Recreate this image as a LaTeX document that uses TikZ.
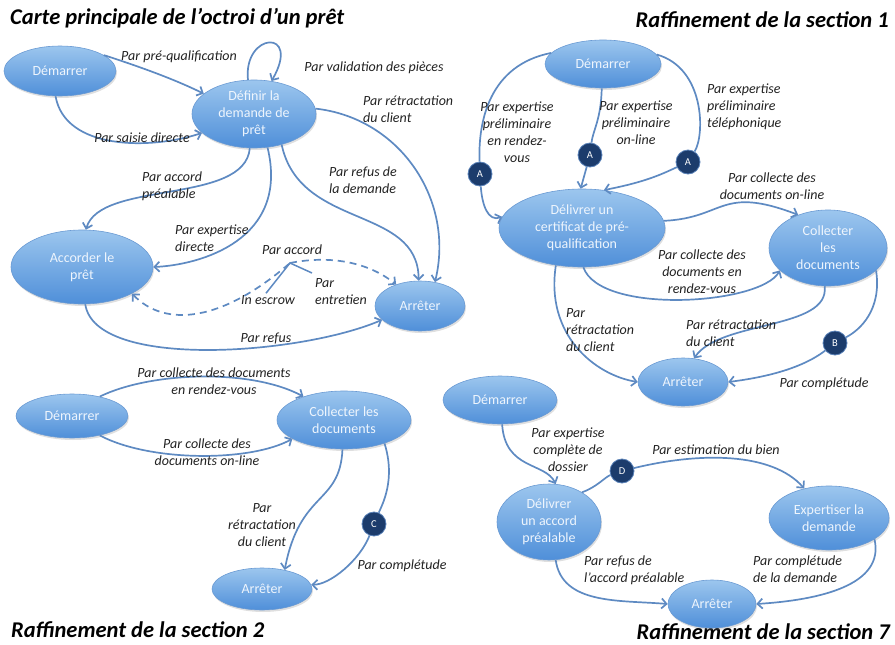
\documentclass[tikz,border=0pt]{standalone}
\usepackage{fontspec}
\setmainfont{Carlito}
\usetikzlibrary{shapes.geometric,arrows.meta,shadows}
\definecolor{edgeblue}{HTML}{5E8AC2}
\definecolor{elltop}{HTML}{9CC6EE}
\definecolor{ellbot}{HTML}{4F8FD9}
\definecolor{ellborder}{HTML}{6A9AD3}
\definecolor{navy}{HTML}{1C3C6C}
\definecolor{navyborder}{HTML}{5A82B8}
\definecolor{labelgray}{HTML}{222222}
\definecolor{nodetext}{HTML}{EEF5FD}
\begin{document}
\begin{tikzpicture}[x=1pt,y=-1pt,
  state/.style={ellipse,inner sep=0pt,top color=elltop,bottom color=ellbot,draw=ellborder,line width=0.6pt,
     text=nodetext,font=\fontsize{14}{17}\selectfont,align=center,
     drop shadow={opacity=0.25,shadow xshift=1pt,shadow yshift=-2pt}},
  badge/.style={circle,fill=navy,draw=navyborder,line width=0.8pt,minimum size=24pt,inner sep=0pt,text=white,font=\fontsize{10.5}{12}\selectfont},
  lbl/.style={text=labelgray,font=\fontsize{14}{17}\selectfont\itshape,inner sep=0pt},
  ttl/.style={text=black,font=\fontsize{22.5}{27}\selectfont\bfseries\itshape,inner sep=0pt},
  flow/.style={draw=edgeblue,line width=1.7pt},
  arr/.style={flow,-{Straight Barb[length=5pt,width=10pt]}},
  dflow/.style={draw=edgeblue,line width=1.7pt,dash pattern=on 7pt off 5pt}
]
\useasboundingbox (0,0) rectangle (895,645);

% ---------------- Carte principale ----------------
\node[ttl,anchor=west] (t1) at (10,18) {Carte principale de l’octroi d’un prêt};
\node[state,minimum width=112pt,minimum height=50pt] (d1) at (60,71) {Démarrer};
\node[state,minimum width=124pt,minimum height=68pt] (def) at (254,114) {Définir la\\demande de\\prêt};
\node[state,minimum width=142pt,minimum height=74pt] (acc) at (82,267) {Accorder le\\prêt};
\node[state,minimum width=90pt,minimum height=50pt] (arr1) at (420,306) {Arrêter};
\coordinate (j) at (290,263);

\draw[arr] (d1.20) .. controls (150,70) and (180,82) .. (def.158);
\draw[arr] (d1.-100) .. controls (65,150) and (150,150) .. (def.-160);
\draw[arr] (def.100) .. controls (243,32) and (302,28) .. (def.62);
\draw[arr] (def.5) .. controls (400,118) and (455,200) .. (arr1.58);
\draw[arr] (def.-48) .. controls (300,230) and (418,205) .. (arr1.93);
\draw[arr] (def.-97) .. controls (245,205) and (100,180) .. (acc.84);
\draw[arr] (def.-68) .. controls (290,240) and (200,265) .. (acc.0);
\draw[arr] (acc.-85) .. controls (95,370) and (300,355) .. (arr1.-160);
\draw[dflow,{Straight Barb[length=5pt,width=10pt]}-] (acc.-28) .. controls (165,328) and (222,322) .. (j);
\draw[dflow,-{Straight Barb[length=5pt,width=10pt]}] (j) .. controls (330,255) and (368,262) .. (arr1.138);

\node[lbl] (l1) at (179,57) {Par pré-qualification};
\node[lbl] (l2) at (374,68) {Par validation des pièces};
\node[lbl,align=left,anchor=west] (l3) at (363,109) {Par rétractation\\du client};
\node[lbl] (l4) at (142,138) {Par saisie directe};
\node[lbl,align=left,anchor=west] (l5) at (142,186) {Par accord\\préalable};
\node[lbl,align=left,anchor=west] (l6) at (329,180) {Par refus de\\la demande};
\node[lbl,align=left,anchor=west] (l7) at (175,238) {Par expertise\\directe};
\node[lbl] (l8) at (292,250) {Par accord};
\node[lbl] (l9) at (268,300) {In escrow};
\node[lbl,align=left,anchor=west] (l10) at (315,292) {Par\\entretien};
\node[lbl] (l11) at (266,339) {Par refus};
\draw[draw=edgeblue,line width=1.5pt] (l9.north) ++(-2,-2) -- (j) -- (312,273);

% ---------------- Section 1 ----------------
\node[ttl,anchor=east] (t2) at (889,20) {Raffinement de la section 1};
\node[state,minimum width=116pt,minimum height=48pt] (d2) at (603,64) {Démarrer};
\node[state,minimum width=166pt,minimum height=78pt] (cert) at (582,228) {Délivrer un\\certificat de pré-\\qualification};
\node[state,minimum width=118pt,minimum height=76pt] (col1) at (828,248) {Collecter\\les\\documents};
\node[state,minimum width=90pt,minimum height=48pt] (arr2) at (683,382) {Arrêter};
\node[badge] (a1) at (480,174) {A};
\node[badge] (a2) at (590,155) {A};
\node[badge] (a3) at (688,162) {A};
\node[badge] (b) at (835,343) {B};

\draw[flow] (d2.168) .. controls (490,65) and (478,120) .. (a1);
\draw[arr] (a1) .. controls (482,205) and (488,222) .. (cert.172);
\draw[flow] (d2.-93) .. controls (601,120) and (593,130) .. (a2);
\draw[arr] (a2) -- (cert.92);
\draw[flow] (d2.10) .. controls (705,68) and (705,135) .. (a3);
\draw[arr] (a3) .. controls (660,175) and (645,182) .. (cert.60);
\draw[arr] (cert.5) .. controls (725,218) and (720,185) .. (col1.132);
\draw[arr] (cert.-88) .. controls (600,315) and (760,305) .. (col1.-155);
\draw[arr] (cert.-125) .. controls (545,335) and (595,375) .. (arr2.180);
\draw[arr] (col1.-95) .. controls (830,330) and (720,320) .. (arr2.65);
\draw[flow] (col1.-25) .. controls (882,310) and (860,330) .. (b);
\draw[arr] (b) .. controls (800,370) and (760,378) .. (arr2.0);

\node[lbl,align=center] (m1) at (517,132) {Par expertise\\préliminaire\\en rendez-\\vous};
\node[lbl,align=center] (m2) at (636,123) {Par expertise\\préliminaire\\on-line};
\node[lbl,align=left,anchor=west] (m3) at (707,107) {Par expertise\\préliminaire\\téléphonique};
\node[lbl,align=center] (m4) at (772,186) {Par collecte des\\documents on-line};
\node[lbl,align=center] (m5) at (702,272) {Par collecte des\\documents en\\rendez-vous};
\node[lbl,align=left,anchor=west] (m6) at (566,330) {Par\\rétractation\\du client};
\node[lbl,align=left,anchor=west] (m7) at (686,333) {Par rétractation\\du client};
\node[lbl] (m8) at (824,384) {Par complétude};

% ---------------- Section 2 ----------------
\node[ttl,anchor=west] (t3) at (11,630) {Raffinement de la section 2};
\node[state,minimum width=112pt,minimum height=44pt] (d3) at (72,416) {Démarrer};
\node[state,minimum width=134pt,minimum height=58pt] (col2) at (344,420) {Collecter les\\documents};
\node[state,minimum width=100pt,minimum height=42pt] (arr3) at (262,589) {Arrêter};
\node[badge] (c) at (374,524) {C};

\draw[arr] (d3.35) .. controls (150,372) and (250,368) .. (col2.150);
\draw[arr] (d3.-35) .. controls (150,462) and (250,462) .. (col2.-160);
\draw[arr] (col2.-93) .. controls (340,505) and (300,490) .. (arr3.40);
\draw[flow] (col2.-30) .. controls (396,480) and (382,505) .. (c);
\draw[arr] (c) .. controls (360,560) and (330,585) .. (arr3.5);

\node[lbl,align=center] (n1) at (214,381) {Par collecte des documents\\en rendez-vous};
\node[lbl,align=center] (n2) at (207,452) {Par collecte des\\documents on-line};
\node[lbl,align=center] (n3) at (262,525) {Par\\rétractation\\du client};
\node[lbl] (n4) at (402,566) {Par complétude};

% ---------------- Section 7 ----------------
\node[ttl,anchor=east] (t4) at (890,632) {Raffinement de la section 7};
\node[state,minimum width=114pt,minimum height=48pt] (d4) at (500,400) {Démarrer};
\node[state,minimum width=104pt,minimum height=76pt] (acp) at (549,522) {Délivrer\\un accord\\préalable};
\node[state,minimum width=120pt,minimum height=64pt] (exp) at (829,518) {Expertiser la\\demande};
\node[state,minimum width=88pt,minimum height=48pt] (arr4) at (712,604) {Arrêter};
\node[badge] (dd) at (622,471) {D};

\draw[arr] (d4.-85) .. controls (505,470) and (545,462) .. (acp.80);
\draw[flow] (acp.42) .. controls (597,487) and (605,477) .. (dd);
\draw[arr] (dd) .. controls (700,452) and (772,452) .. (exp.130);
\draw[arr] (acp.-80) .. controls (562,605) and (620,600) .. (arr4.180);
\draw[arr] (exp.-25) .. controls (885,585) and (820,600) .. (arr4.0);

\node[lbl,align=center] (o1) at (568,450) {Par expertise\\complète de\\dossier};
\node[lbl] (o2) at (716,450) {Par estimation du bien};
\node[lbl,align=left,anchor=west] (o3) at (584,570) {Par refus de\\l’accord préalable};
\node[lbl,align=left,anchor=west] (o4) at (753,569) {Par complétude\\de la demande};
\end{tikzpicture}
\end{document}
